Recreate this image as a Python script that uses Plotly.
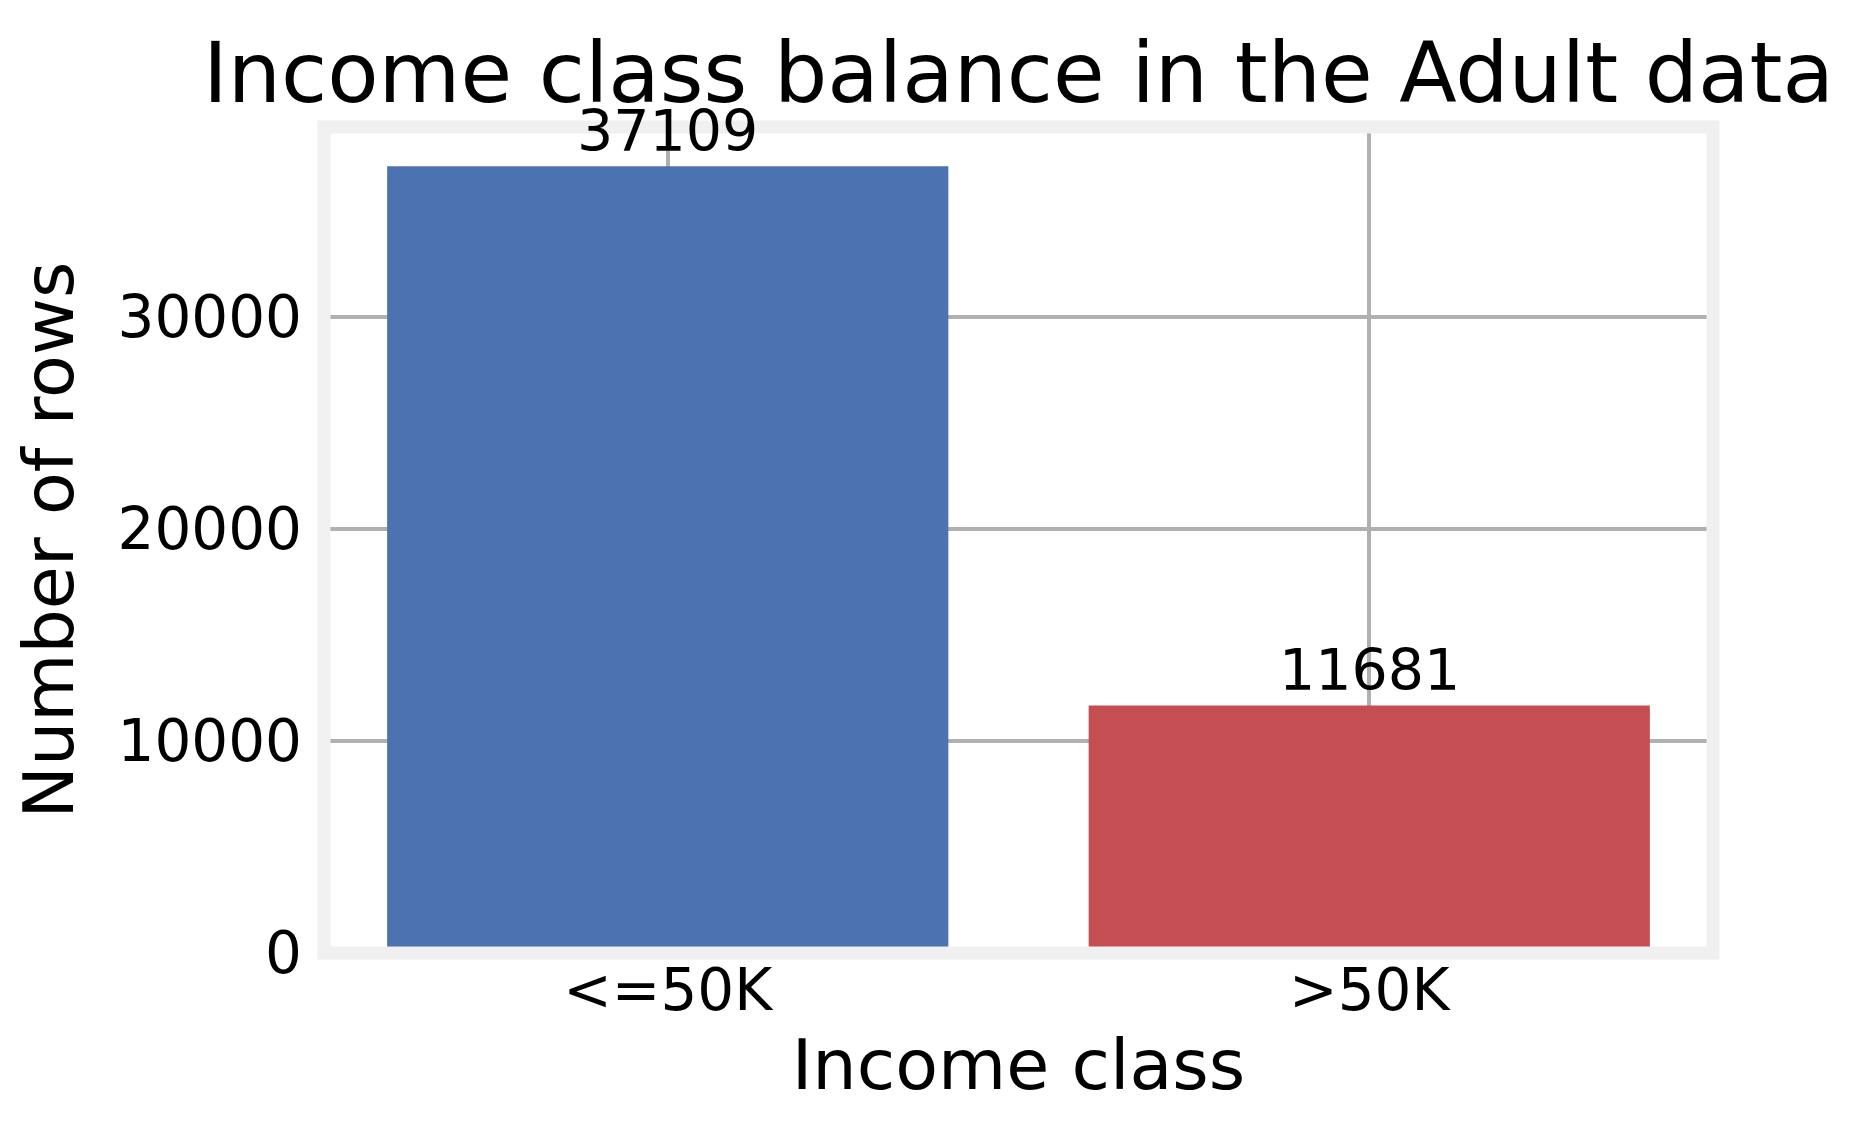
import plotly.graph_objects as go

categories = ["<=50K", ">50K"]
counts = [37109, 11681]
bar_colors = ["#4c72b0", "#c44e52"]

font_family = "DejaVu Sans"

fig = go.Figure(
    data=[
        go.Bar(
            x=categories,
            y=counts,
            marker=dict(color=bar_colors, line=dict(width=0)),
            width=0.8,
            cliponaxis=False,
            hoverinfo="x+y",
        )
    ]
)

# value labels above the bars
for cat, val in zip(categories, counts):
    fig.add_annotation(
        x=cat, y=val, text=str(val),
        showarrow=False, yanchor="bottom", yshift=0,
        font=dict(family=font_family, size=57, color="black"),
    )

# thick light frame like the matplotlib spines
fig.add_shape(
    type="rect", xref="paper", yref="paper", x0=0, y0=0, x1=1, y1=1,
    line=dict(color="#f0f0f0", width=13), layer="above",
)

fig.update_layout(
    width=1853,
    height=1134,
    margin=dict(l=316, r=148, t=119, b=189),
    paper_bgcolor="white",
    plot_bgcolor="white",
    showlegend=False,
    font=dict(family=font_family, color="black"),
    title=dict(
        text="Income class balance in the Adult data",
        x=0.5, xref="paper", xanchor="center",
        y=1 - 65 / 1134, yref="container", yanchor="middle",
        font=dict(family=font_family, size=84, color="black"),
    ),
    bargap=0.2,
)

fig.update_xaxes(
    range=[-0.49, 1.49],
    showgrid=True, gridcolor="#b0b0b0", gridwidth=4,
    ticks="", showline=False, zeroline=False,
    tickfont=dict(family=font_family, size=58, color="black"),
    ticklabelstandoff=-2,
    title=dict(text="Income class", standoff=16,
               font=dict(family=font_family, size=70, color="black")),
)

fig.update_yaxes(
    range=[0, 37109 * 1.05],
    dtick=10000, tick0=0, tickformat="d",
    showgrid=True, gridcolor="#b0b0b0", gridwidth=4,
    ticks="", showline=False, zeroline=False,
    tickfont=dict(family=font_family, size=58, color="black"),
    ticklabelstandoff=21,
    title=dict(text="Number of rows", standoff=22,
               font=dict(family=font_family, size=70, color="black")),
)

fig.write_html("out.html")
